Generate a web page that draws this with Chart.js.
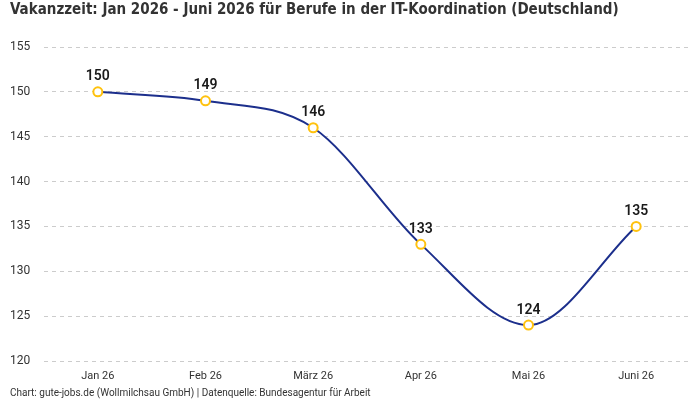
<!DOCTYPE html>
<html>
<head>
<meta charset="utf-8">
<script src="https://cdn.jsdelivr.net/npm/chart.js@4"></script>
<style>
  html, body { margin: 0; padding: 0; background: #fff; }
  #wrap { width: 700px; height: 400px; }
</style>
</head>
<body>
<div id="wrap"><canvas id="vakanzChart" width="700" height="400"></canvas></div>
<script>
const months = ["Jan 26", "Feb 26", "März 26", "Apr 26", "Mai 26", "Juni 26"];
const vakanzDays = [150, 149, 146, 133, 124, 135];
const yTicks = [120, 125, 130, 135, 140, 145, 150, 155];

const titleText = "Vakanzzeit: Jan 2026 - Juni 2026 für Berufe in der IT-Koordination (Deutschland)";
const footerText = "Chart: gute-jobs.de (Wollmilchsau GmbH) | Datenquelle: Bundesagentur für Arbeit";

// simple value labels above the points
const valueLabels = {
    id: "valueLabels",
    afterDatasetsDraw(chart) {
        const ctx = chart.ctx;
        const meta = chart.getDatasetMeta(0);
        ctx.save();
        ctx.font = "600 14px Roboto, 'Noto Sans', sans-serif";
        ctx.fillStyle = "#1a1a1a";
        ctx.textAlign = "center";
        ctx.textBaseline = "bottom";
        meta.data.forEach((pt, i) => {
            ctx.fillText(String(vakanzDays[i]), pt.x, pt.y - 8);
        });
        ctx.restore();
    }
};

new Chart(document.getElementById("vakanzChart"), {
    type: "line",
    data: {
        labels: months,
        datasets: [{
            data: vakanzDays,
            borderColor: "#1c2f8c",
            borderWidth: 2,
            cubicInterpolationMode: "monotone",
            pointRadius: 4.5,
            pointBorderWidth: 2,
            pointBorderColor: "#ffc20e",
            pointBackgroundColor: "#ffffff",
            fill: false
        }]
    },
    options: {
        responsive: false,
        animation: false,
        layout: { padding: { left: 10, right: 10, top: 0, bottom: 0 } },
        plugins: {
            legend: { display: false },
            tooltip: { enabled: false },
            title: {
                display: true,
                text: titleText,
                align: "start",
                color: "#333333",
                font: { family: "'Liberation Sans Narrow', 'DejaVu Sans Condensed', sans-serif", size: 15, weight: "bold" },
                padding: { top: 1, bottom: 28 }
            },
            subtitle: {
                display: true,
                position: "bottom",
                text: footerText,
                align: "start",
                color: "#333333",
                font: { family: "Roboto, 'Noto Sans', sans-serif", size: 10 },
                padding: { top: 0, bottom: 1 }
            }
        },
        scales: {
            x: {
                offset: true,
                grid: { display: false, drawTicks: false },
                border: { display: false },
                afterFit(axis) { axis.height = 26; },
                ticks: {
                    color: "#333333",
                    maxRotation: 0,
                    font: { family: "Roboto, 'Noto Sans', sans-serif", size: 11 },
                    padding: 9
                }
            },
            y: {
                min: yTicks[0],
                max: yTicks[yTicks.length - 1],
                afterBuildTicks(axis) {
                    axis.ticks = yTicks.map(v => ({ value: v }));
                },
                afterFit(axis) { axis.width = 34; },
                border: { display: false, dash: [4, 4] },
                grid: { color: "#cccccc", drawTicks: false },
                ticks: {
                    color: "#333333",
                    crossAlign: "far",
                    font: { family: "Roboto, 'Noto Sans', sans-serif", size: 12 },
                    padding: 14
                }
            }
        }
    },
    plugins: [valueLabels]
});
</script>
</body>
</html>
